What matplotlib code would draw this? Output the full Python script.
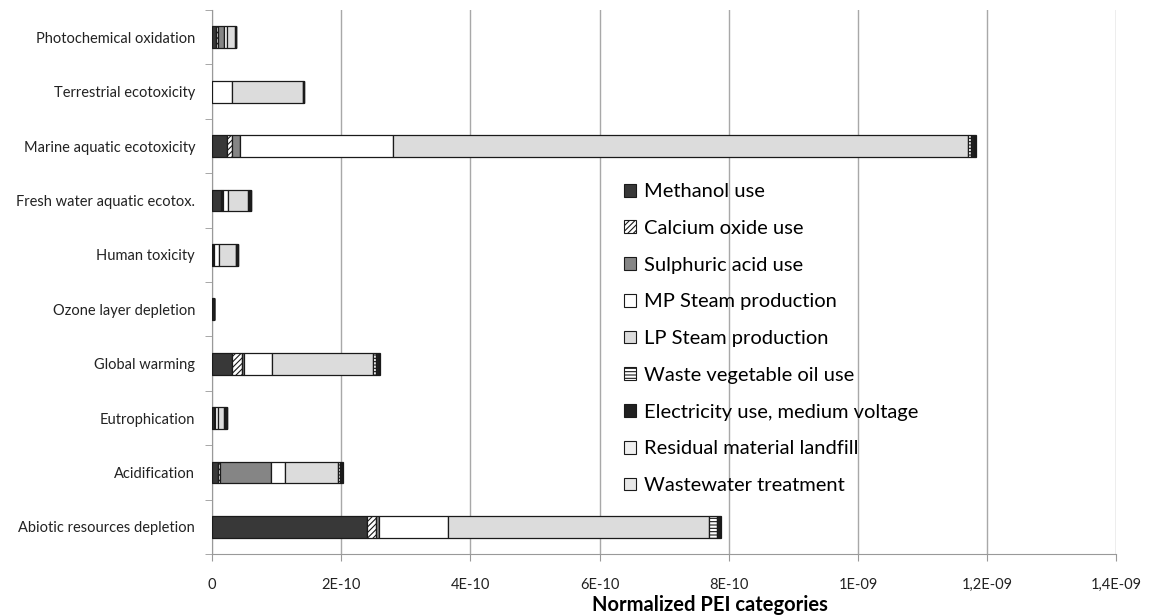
import numpy as np
import matplotlib.pyplot as plt
from matplotlib.patches import Patch

plt.rcParams['font.family'] = ['Lato', 'DejaVu Sans']

# categories, bottom to top
categories = ['Abiotic resources depletion', 'Acidification', 'Eutrophication',
              'Global warming', 'Ozone layer depletion', 'Human toxicity',
              'Fresh water aquatic ecotox.', 'Marine aquatic ecotoxicity',
              'Terrestrial ecotoxicity', 'Photochemical oxidation']

series = ['Methanol use', 'Calcium oxide use', 'Sulphuric acid use',
          'MP Steam production', 'LP Steam production', 'Waste vegetable oil use',
          'Electricity use, medium voltage', 'Residual material landfill',
          'Wastewater treatment']

# values in units of 1E-10
methanol    = [2.40, 0.09, 0.03, 0.31, 0.03, 0.01, 0.14, 0.23, 0.005, 0.07]
calcium     = [0.14, 0.04, 0.01, 0.16, 0.00, 0.01, 0.02, 0.08, 0.00, 0.02]
sulphuric   = [0.04, 0.79, 0.01, 0.03, 0.00, 0.01, 0.01, 0.12, 0.00, 0.10]
mp_steam    = [1.08, 0.22, 0.04, 0.43, 0.00, 0.08, 0.08, 2.38, 0.31, 0.04]
lp_steam    = [4.04, 0.82, 0.10, 1.56, 0.00, 0.26, 0.31, 8.90, 1.09, 0.13]
waste_oil   = [0.12, 0.03, 0.02, 0.05, 0.00, 0.01, 0.01, 0.04, 0.00, 0.01]
electricity = [0.04, 0.02, 0.02, 0.04, 0.01, 0.02, 0.03, 0.05, 0.02, 0.01]
landfill    = [0.01, 0.01, 0.00, 0.01, 0.00, 0.00, 0.01, 0.01, 0.00, 0.00]
wastewater  = [0.01, 0.01, 0.00, 0.01, 0.00, 0.00, 0.00, 0.01, 0.00, 0.00]

xticks = [0, 2e-10, 4e-10, 6e-10, 8e-10, 1e-09, 1.2e-09, 1.4e-09]
xticklabels = ['0', '2E-10', '4E-10', '6E-10', '8E-10', '1E-09', '1,2E-09', '1,4E-09']

data = [methanol, calcium, sulphuric, mp_steam, lp_steam, waste_oil,
        electricity, landfill, wastewater]

styles = [
    dict(color='#383838', hatch=None),
    dict(color='white', hatch='//////'),
    dict(color='#858585', hatch=None),
    dict(color='white', hatch=None),
    dict(color='#dcdcdc', hatch=None),
    dict(color='white', hatch='-----'),
    dict(color='#202020', hatch=None),
    dict(color='#f0f0f0', hatch=None),
    dict(color='#e8e8e8', hatch=None),
]

fig = plt.figure(figsize=(11.51, 6.16), dpi=100)
ax = fig.add_axes([0.184, 0.1006, 0.786, 0.883])

y = np.arange(len(categories))
left = np.zeros(len(categories))
plt.rcParams['hatch.color'] = '#555555'
plt.rcParams['hatch.linewidth'] = 0.8
for vals, st in zip(data, styles):
    v = np.array(vals) * 1e-10
    ax.barh(y, v, left=left, height=0.4, color=st['color'], hatch=st['hatch'],
            edgecolor='#1a1a1a', linewidth=0.9, zorder=3)
    left += v

ax.set_ylim(-0.5, len(categories) - 0.5)
ax.set_xlim(0, 1.4e-09)
ax.set_yticks(y)
ax.set_yticklabels(categories, fontsize=10.5, color='#222222')
ax.tick_params(axis='y', length=0, pad=12)
ax.set_yticks(np.arange(-0.5, len(categories), 1), minor=True)
ax.tick_params(axis='y', which='minor', length=5, color='#999999')

ax.set_xticks(xticks)
ax.set_xticklabels(xticklabels, fontsize=10.5, color='#222222')
ax.tick_params(axis='x', length=5, color='#999999', pad=12)
ax.grid(axis='x', color='#a8a8a8', linewidth=1, zorder=0)
ax.set_xlabel('Normalized PEI categories', fontsize=14.5, fontweight='bold')
ax.xaxis.label.set_va('center')
ax.xaxis.set_label_coords(0.551, -0.094)

for s in ['top', 'right']:
    ax.spines[s].set_visible(False)
for s in ['left', 'bottom']:
    ax.spines[s].set_color('#999999')

handles = [Patch(facecolor=st['color'], hatch=st['hatch'], edgecolor='#1a1a1a',
                 linewidth=0.8, label=name) for st, name in zip(styles, series)]
ax.legend(handles=handles, loc='upper left', bbox_to_anchor=(0.436, 0.715),
          frameon=False, fontsize=14.5, handlelength=0.6, handleheight=0.6,
          handletextpad=0.4, labelspacing=0.98)

fig.savefig('out.png', dpi=100)
